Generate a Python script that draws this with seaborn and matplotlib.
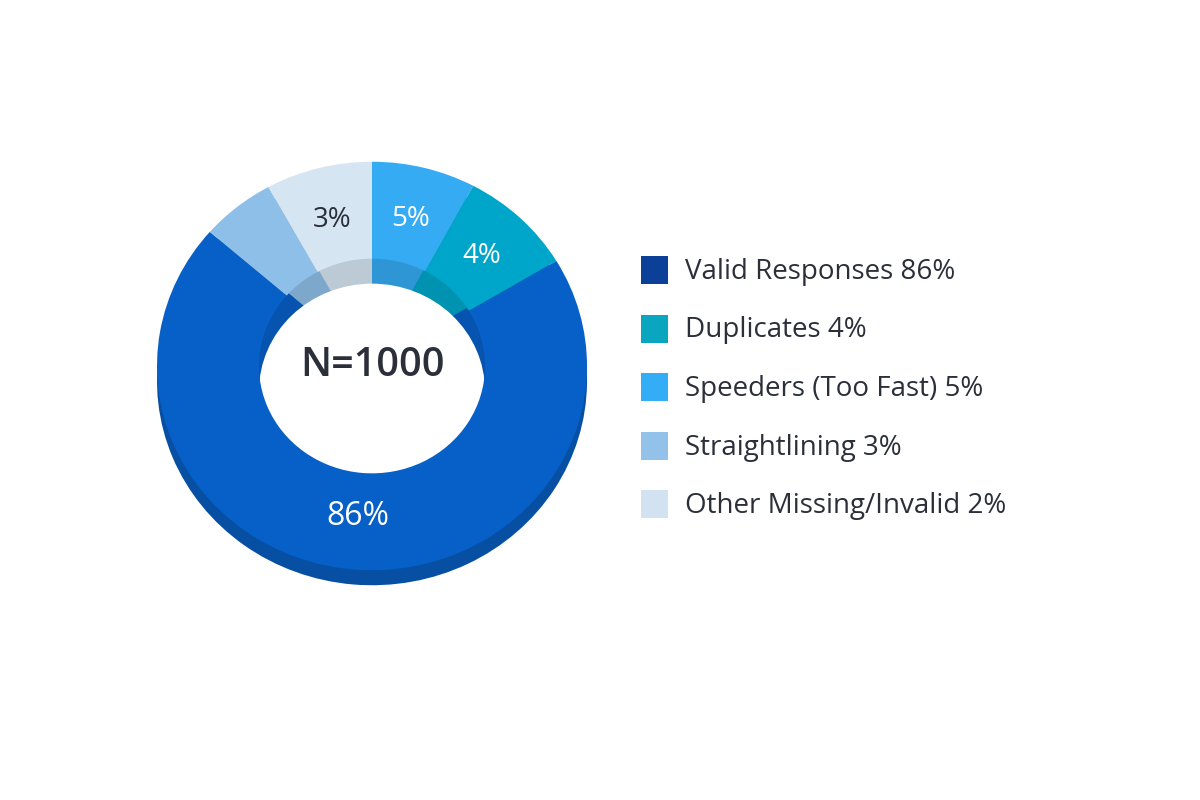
import numpy as np
import matplotlib
matplotlib.use("Agg")
import matplotlib.pyplot as plt
import seaborn as sns
from matplotlib.patches import Circle, Rectangle

# ------------------------------------------
# DATA
# ------------------------------------------
categories = ["Valid Responses", "Duplicates", "Speeders (Too Fast)",
              "Straightlining", "Other Missing/Invalid"]
shares = [86, 4, 5, 3, 2]
# arc sizes as drawn in the reference (its arcs are not to scale of the labels)
arc_share = [70, 8.6, 7.8, 5.6, 8.0]
slice_labels = ["86%", "4%", "5%", "", "3%"]
# clockwise order of the slices starting at 12 o'clock
pie_order = [2, 1, 0, 3, 4]
total_n = 1000

top_colors = ["#0760C7", "#00A6C9", "#35ABF3", "#8EBFE8", "#D6E5F2"]
legend_colors = ["#0B3F98", "#0AA5BF", "#33ADF5", "#92C1EA", "#D3E2F0"]


def darken(hex_color, f):
    r, g, b = matplotlib.colors.to_rgb(hex_color)
    return (r * f, g * f, b * f)


# ------------------------------------------
# FIGURE
# ------------------------------------------
sns.set_theme(style="white")
plt.rcParams["font.family"] = ["Open Sans", "DejaVu Sans"]
text_color = "#2B2F3A"

fig = plt.figure(figsize=(12, 8), dpi=100)
fig.patch.set_facecolor("white")
ax = fig.add_axes([0, 0, 1, 1])

k = 0.95  # slight vertical squash for the tilted look
cx, cy = 372, (800 - 366) / k
R = 215
r_in = 113
side_d = 15 / k
hole_d = 25 / k

vals = [arc_share[i] for i in pie_order]
cols = [top_colors[i] for i in pie_order]
labs = [slice_labels[i] for i in pie_order]

# side of the ring (visible below the top surface)
ax.pie(vals, colors=[darken(c, 0.82) for c in cols], radius=R,
       center=(cx, cy - side_d), startangle=90, counterclock=False,
       wedgeprops=dict(linewidth=0), frame=True)

# inner wall of the hole
ax.pie(vals, colors=[darken(c, 0.88) for c in cols], radius=r_in,
       center=(cx, cy + 4 / k), startangle=90, counterclock=False,
       wedgeprops=dict(linewidth=0), frame=True)
ax.add_patch(Circle((cx, cy - hole_d), r_in, facecolor="white",
                    edgecolor="none", zorder=2))

# top surface
wedges, texts = ax.pie(vals, colors=cols, radius=R, center=(cx, cy),
                       startangle=90, counterclock=False, labels=labs,
                       labeldistance=0.74,
                       wedgeprops=dict(width=R - r_in, linewidth=0),
                       textprops=dict(color="white", fontsize=20,
                                      ha="center", va="center"),
                       frame=True)
for w in wedges:
    w.set_zorder(3)
for t, lab in zip(texts, labs):
    t.set_zorder(4)
    if lab == "86%":
        t.set_fontsize(23)
    if lab == "3%":
        t.set_color(text_color)

ax.text(cx, cy, f"N={total_n}", ha="center", va="center", fontsize=28.5,
        fontweight="semibold", color=text_color, zorder=5)

ax.set_xlim(0, 1200)
ax.set_ylim(0, 800 / k)
ax.set_aspect("auto")
ax.axis("off")

# ------------------------------------------
# LEGEND
# ------------------------------------------
for i, (name, pct, col) in enumerate(zip(categories, shares, legend_colors)):
    y_px = 270 + i * 58.5
    y = (800 - y_px) / k
    ax.add_patch(Rectangle((641, y - 14 / k), 27, 28 / k, facecolor=col,
                           edgecolor="none", zorder=3))
    ax.text(685, y - 2 / k, f"{name} {pct}%", ha="left", va="center",
            fontsize=20, color=text_color)

fig.savefig("out.png", dpi=100, facecolor="white")
